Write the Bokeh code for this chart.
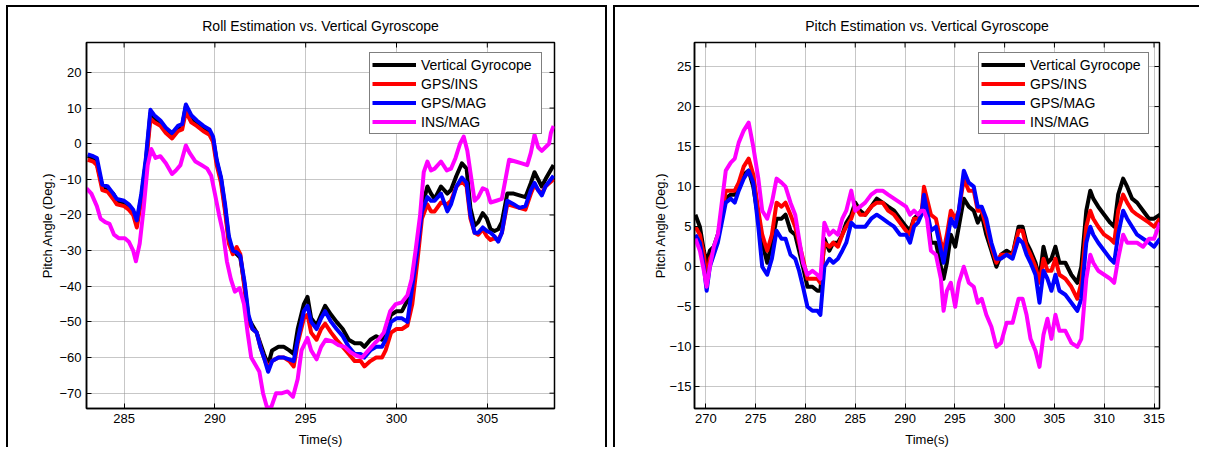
import math
from bokeh.plotting import figure
from bokeh.models import Range1d, FixedTicker, Legend, LegendItem
from bokeh.layouts import row
from bokeh.embed import file_html
from bokeh.resources import INLINE

FONT = "Liberation Sans"

series_names = ["Vertical Gyrocope", "GPS/INS", "GPS/MAG", "INS/MAG"]
series_colors = ["#000000", "#ff0000", "#0000ff", "#ff00ff"]

# ---------------- Roll panel data ----------------
roll_xticks = [285, 290, 295, 300, 305]
roll_yticks = [-70, -60, -50, -40, -30, -20, -10, 0, 10, 20]

t_roll = [283.0, 283.3, 283.5, 283.8, 284.1, 284.4, 284.6, 285.0, 285.26, 285.5,
          285.7, 285.95, 286.2, 286.45, 286.66, 287.0, 287.3, 287.64, 287.96, 288.2,
          288.4, 288.7, 289.0, 289.37, 289.7, 289.9, 290.1, 290.34, 290.56, 290.77,
          290.99, 291.2, 291.4, 291.64, 291.85, 292.07, 292.3, 292.5, 292.7, 292.93,
          293.15, 293.5, 293.8, 294.1, 294.34, 294.56, 294.9, 295.1, 295.3, 295.6,
          295.85, 296.07, 296.4, 296.7, 297.04, 297.37, 297.7, 298.03, 298.23, 298.56,
          298.88, 299.2, 299.4, 299.7, 300.0, 300.3, 300.6, 300.87, 301.15, 301.4,
          301.7, 301.9, 302.1, 302.45, 302.8, 303.0, 303.3, 303.6, 303.86, 304.07,
          304.3, 304.5, 304.75, 304.97, 305.18, 305.4, 305.6, 305.8, 306.1, 306.45,
          306.77, 307.1, 307.4, 307.6, 307.8, 308.0, 308.2, 308.65]

roll_vg = [-3.5, -4, -5.5, -12, -12.5, -14, -16, -16.5, -17.5, -19,
           -22, -15, -5, 8.5, 7, 6, 4, 2.5, 4.5, 5,
           10.5, 7.5, 6, 4.5, 3.5, 1.5, -5, -10, -18, -27,
           -30, -31, -32, -40, -49, -51, -53, -56, -59, -62,
           -58, -57, -57, -58, -59, -52, -45, -43, -49, -51,
           -48, -45.5, -48, -50, -52, -55, -56, -56, -57, -55,
           -54, -55, -52, -48, -47, -47, -44, -38, -28, -18,
           -12, -14, -15.5, -12, -14, -13, -9, -5.5, -7, -18,
           -23, -22, -19.5, -21, -24, -24.5, -24, -22, -14, -14,
           -14.5, -15, -11, -8, -10, -12, -10, -6]

roll_gi = [-4.5, -5, -6, -13, -13.5, -15.5, -17, -17.5, -18.5, -20,
           -23.5, -16, -6, 7, 6, 5, 3, 1.5, 3.5, 4,
           9, 6, 5, 3.5, 2.5, 0.5, -6, -11, -19, -28,
           -31, -29, -31, -41, -50, -52, -53, -57, -60, -63,
           -61, -60, -60, -61, -62.5, -56, -49, -48, -53, -55,
           -52, -50.5, -53, -55, -57, -59, -61, -61, -62.5, -61,
           -60, -60, -58, -53, -52, -52, -51, -45, -33, -21,
           -17, -19, -19, -16.5, -17, -16, -12, -10.5, -12, -21,
           -25, -25.5, -24, -26, -27, -26.5, -27, -25, -17, -17.5,
           -18, -18.5, -14, -11.5, -13, -14, -12, -10]

roll_gm = [-3, -3.5, -4, -11.5, -12, -14, -15.5, -16, -17, -18.5,
           -21.5, -14, -4, 9.5, 8, 6.5, 4.5, 3, 5, 5.5,
           11, 8, 6.5, 5, 4, 2, -4.5, -9.5, -17, -26,
           -30, -30.5, -31.5, -39, -48, -52, -53, -57, -60, -64,
           -61, -60, -60, -60.5, -61, -55, -47, -45.5, -50, -52,
           -49, -47, -50, -52, -54, -57, -59, -59, -60, -58,
           -57, -57, -55, -50, -49, -49, -50, -40, -30, -19,
           -15, -16, -16, -14, -19, -17, -12, -9.5, -11, -20,
           -25, -25, -23.5, -24.5, -25, -26, -27.5, -25, -16, -17,
           -18, -17.5, -13, -11, -13, -14.5, -12, -9]

t_roll_im = [282.93, 283.2, 283.5, 283.7, 283.96, 284.2, 284.44, 284.7, 285.04, 285.26,
             285.5, 285.65, 285.86, 286.08, 286.3, 286.5, 286.73, 287.0, 287.3, 287.64,
             287.85, 288.1, 288.4, 288.6, 288.93, 289.26, 289.58, 289.8, 290.0, 290.23,
             290.45, 290.66, 290.88, 291.1, 291.36, 291.6, 291.8, 292.0, 292.23, 292.45,
             292.65, 292.87, 293.1, 293.37, 293.7, 294.0, 294.3, 294.56, 294.77, 295.1,
             295.3, 295.6, 295.85, 296.1, 296.5, 296.8, 297.15, 297.47, 297.8, 298.1,
             298.45, 298.8, 299.0, 299.3, 299.65, 299.96, 300.3, 300.6, 300.83, 301.05,
             301.3, 301.5, 301.7, 301.9, 302.1, 302.45, 302.77, 303.0, 303.25, 303.5,
             303.7, 303.9, 304.07, 304.3, 304.5, 304.75, 304.97, 305.18, 305.5, 305.8,
             306.0, 306.2, 306.55, 306.9, 307.2, 307.4, 307.6, 307.8, 308.0, 308.2,
             308.4, 308.5, 308.65]

roll_im = [-12.5, -14, -17.5, -21, -22, -22.5, -25.5, -26.5, -26.5, -27.5,
           -30, -33, -28, -18, -6, -1.5, -4, -3.5, -5.5, -8.5,
           -7.5, -6, -0.5, -2.5, -5, -6, -7, -9, -14, -20,
           -25, -33, -38, -41.5, -40.5, -45, -53, -60, -62, -64,
           -70, -74, -74, -70, -70, -69.5, -71, -66, -58, -54.5,
           -58, -60.5, -57, -55, -55.5, -56.5, -57, -58.5, -59.5, -60,
           -58, -56, -55, -53, -47, -45, -44.5, -42.5, -38, -30,
           -20, -8, -5, -7.5, -7, -5, -7.5, -7, -4, 0,
           2, -2, -8, -16, -15, -12.5, -13, -16.5, -16, -15.5,
           -10, -4.5, -5, -5.5, -6, -2.5, 2.5, -1, -2, -1,
           0, 3, 5]

# ---------------- Pitch panel data ----------------
pitch_xticks = [270, 275, 280, 285, 290, 295, 300, 305, 310, 315]
pitch_yticks = [-15, -10, -5, 0, 5, 10, 15, 20, 25]

t_pitch = [268.95, 269.4, 269.8, 270.08, 270.4, 270.8, 271.2, 271.6, 272.0, 272.5,
           272.9, 273.3, 273.8, 274.3, 274.76, 275.27, 275.66, 276.16, 276.63, 277.1,
           277.6, 278.0, 278.5, 278.97, 279.36, 279.75, 280.2, 280.7, 281.2, 281.5,
           281.9, 282.4, 282.8, 283.26, 283.7, 284.1, 284.6, 285.0, 285.5, 286.0,
           286.6, 287.16, 287.75, 288.3, 288.9, 289.5, 290.1, 290.5, 290.9, 291.3,
           291.65, 291.9, 292.2, 292.6, 293.1, 293.6, 293.87, 294.2, 294.6, 295.04,
           295.4, 295.9, 296.4, 296.9, 297.3, 297.7, 298.16, 298.67, 299.17, 299.64,
           300.2, 300.8, 301.4, 301.8, 302.2, 302.6, 303.1, 303.5, 303.9, 304.3,
           304.7, 305.1, 305.5, 306.1, 306.7, 307.3, 307.7, 308.2, 308.6, 308.9,
           309.4, 310.0, 310.6, 311.0, 311.4, 311.9, 312.3, 312.8, 313.3, 313.9,
           314.5, 315.0, 315.6]

pitch_vg = [6.5, 5, 2, 0.5, 2, 2.5, 4, 6, 8.5, 9,
            9, 10, 11.5, 12, 10, 6, 3, 0.5, 3, 6,
            6, 6.5, 4.5, 4, 2, 0, -2.5, -2.5, -3, -3,
            3.5, 2, 3, 3, 4, 5.5, 6.5, 8, 7, 6.5,
            7.5, 8.5, 8, 7.5, 7, 6, 5, 4.5, 6, 6.5,
            7, 8, 7, 3, 3, 0, -1.5, 0.5, 4, 2.5,
            5, 8.5, 7.5, 7, 5.5, 6.5, 4, 2, 0, 1.5,
            2, 1.5, 5, 5, 3, 2, 0.5, -1.5, 2.5, 0.5,
            1, 2.5, 0.5, 0.5, -1, -2, 0, 7, 9.5, 8.5,
            7.5, 6.5, 5.5, 5, 9, 11, 10, 8.5, 8, 7,
            6, 6, 6.5]

pitch_gi = [5, 4, 1.5, -1.5, 1, 2, 3.5, 6.5, 9.5, 9.5,
            9.5, 10.5, 12.5, 13.5, 11.5, 7, 4, 2, 4, 8,
            7.5, 8, 6.5, 5, 3, 1, -1.5, -1.5, -1.5, -2,
            3, 2.5, 3, 2.5, 4, 5, 6, 7.5, 6.5, 6.5,
            7.5, 8, 8, 7, 6.5, 5.5, 4.5, 4, 6, 6,
            6.5, 10, 8.5, 6.5, 6, 3, 2, 4, 7, 6,
            7, 11, 9.5, 9.5, 7, 7, 5, 2.5, 0.5, 1.5,
            1.5, 1.5, 4.5, 4.5, 2.5, 1.5, 0, -2, 1, -0.5,
            -0.5, 1, -1, -1.5, -2.5, -4, -2, 5, 7, 6,
            5, 4, 3.5, 3, 7, 9, 8, 7, 6.5, 6,
            5.5, 5, 6]

pitch_gm = [4, 3, 0, -3, 0, 1.5, 3, 5.5, 8, 8.5,
            8, 9.5, 11, 12, 10.5, 5, 0, -1, 1, 4.5,
            3.5, 3.5, 1.5, 1, -0.5, -2.5, -5, -5.5, -5.5, -6,
            0, 1, 0.5, 1, 2, 3, 5.5, 5, 5, 5,
            6, 6.5, 6, 5.5, 5, 4, 4, 3, 5, 5.5,
            6.5, 9, 7, 4.5, 5, 2, 0.5, 3, 6, 5,
            7, 12, 10.5, 10, 7.5, 7.5, 6, 3, 1, 1,
            1.5, 1, 3.5, 3, 1.5, 0.5, -1, -4.5, -0.5, -1.5,
            -3, -1, -3, -3.5, -4.5, -5.5, -4, 3, 5, 4,
            3, 2, 1, 0.5, 4, 7, 6, 5, 4, 3.5,
            3, 2.5, 3.5]

pitch_im = [3.5, 2, -0.5, -2.5, 0, 2.5, 4, 8, 12, 13,
            13.5, 15.5, 17, 18, 15, 11, 7, 6, 8, 11,
            10.5, 10, 8, 6.5, 3.5, 0.5, -1, -0.5, -1, -1.5,
            5.5, 4, 4.5, 4, 6, 7, 9.5, 7, 7.5, 8,
            9, 9.5, 9.5, 9, 8.5, 8, 7.5, 6.5, 7, 6.5,
            7, 7, 6, 2, 1.5, -1.5, -5.5, -3, -2, -5,
            -2, 0, -2, -2.5, -4.5, -4, -6, -7.5, -10, -9.5,
            -7, -7, -4, -4, -6, -9, -10.5, -12.5, -8.5, -6.5,
            -9, -6, -8, -8, -9.5, -10, -9, -1.5, 1.5, 0.5,
            -0.5, -1, -1.5, -2, 1, 4, 3, 3, 3, 2.5,
            3.5, 3.5, 5.5]


def style_axis(ax, ticks, label_standoff):
    ax.ticker = FixedTicker(ticks=ticks)
    ax.major_tick_in = 5
    ax.major_tick_out = 0
    ax.minor_tick_line_color = None
    ax.axis_line_color = "black"
    ax.axis_line_width = 1.5
    ax.major_tick_line_color = "black"
    ax.major_tick_line_width = 1
    ax.major_label_text_font = FONT
    ax.major_label_text_color = "black"
    ax.major_label_text_font_size = "13px"
    ax.major_label_standoff = label_standoff
    ax.axis_label_text_font = FONT
    ax.axis_label_text_font_size = "13px"
    ax.axis_label_text_font_style = "normal"
    ax.axis_label_text_color = "black"


def make_panel(title, lines, xr, yr, xticks, yticks, width, height, borders,
               legend_xy, legend_lw, ystand, ylab_stand, css, margin):
    bl, br, bt, bb = borders
    p = figure(width=width, height=height, x_range=Range1d(*xr), y_range=Range1d(*yr),
               output_backend="svg", toolbar_location=None, title=title,
               min_border_left=bl, min_border_right=br, min_border_top=bt,
               min_border_bottom=bb, background_fill_color="white",
               border_fill_color="white", outline_line_color="black",
               outline_line_width=1.5, styles=css, margin=margin)
    p.title.text_font = FONT
    p.title.text_font_size = "14px"
    p.title.text_font_style = "normal"
    p.title.text_color = "black"
    p.title.align = "center"
    p.title.standoff = 17

    style_axis(p.xaxis[0], xticks, 5)
    style_axis(p.yaxis[0], yticks, ystand)
    p.xaxis[0].axis_label = "Time(s)"
    p.xaxis[0].axis_label_standoff = 6
    p.yaxis[0].axis_label = "Pitch Angle (Deg.)"
    p.yaxis[0].axis_label_standoff = ylab_stand

    p.xgrid.ticker = FixedTicker(ticks=xticks)
    p.ygrid.ticker = FixedTicker(ticks=yticks)
    p.grid.grid_line_color = "#8f8f8f"
    p.grid.grid_line_dash = "1 1"
    p.grid.grid_line_width = 1

    # inward tick marks on the top and right edges of the box (clipped to the frame)
    p.scatter(x=xticks, y=[yr[1]] * len(xticks), marker="dash", size=10,
              angle=math.pi / 2, line_color="black", line_width=1)
    p.scatter(x=[xr[1]] * len(yticks), y=yticks, marker="dash", size=10,
              line_color="black", line_width=1)

    items = []
    for (tx, ty), name, color in zip(lines, series_names, series_colors):
        r = p.line(tx, ty, line_color=color, line_width=4, line_join="round")
        items.append(LegendItem(label=name, renderers=[r]))

    legend = Legend(items=items, location=legend_xy, margin=0, padding=2, spacing=0,
                    label_height=19, glyph_height=19, glyph_width=44, label_standoff=5,
                    label_width=legend_lw, label_text_font=FONT,
                    label_text_font_size="14px",
                    label_text_color="black", border_line_color="black",
                    border_line_width=1.5, background_fill_color="white",
                    background_fill_alpha=1.0)
    p.add_layout(legend)
    return p


# figure sizes include the 2px CSS frame borders (border-box)
p1 = make_panel("Roll Estimation vs. Vertical Gyroscope",
                [(t_roll, roll_vg), (t_roll, roll_gi), (t_roll, roll_gm), (t_roll_im, roll_im)],
                (282.93, 308.7), (-74.3, 28.4), roll_xticks, roll_yticks,
                601, 442, (78, 55, 34, 41), (283, 274), 118, 5, 1,
                {"border-top": "2px solid black", "border-left": "2px solid black",
                 "border-right": "2px solid black"},
                (5, 0, 0, 6))

p2 = make_panel("Pitch Estimation vs. Vertical Gyroscope",
                [(t_pitch, pitch_vg), (t_pitch, pitch_gi), (t_pitch, pitch_gm), (t_pitch, pitch_im)],
                (268.86, 315.55), (-17.7, 28.0), pitch_xticks, pitch_yticks,
                586, 442, (79, 42, 33, 41), (284, 274), 116, 3, -2,
                {"border-top": "2px solid black", "border-left": "2px solid black"},
                (5, 0, 0, 6))

layout = row(p1, p2)
open("out.html", "w").write(file_html(layout, INLINE))
